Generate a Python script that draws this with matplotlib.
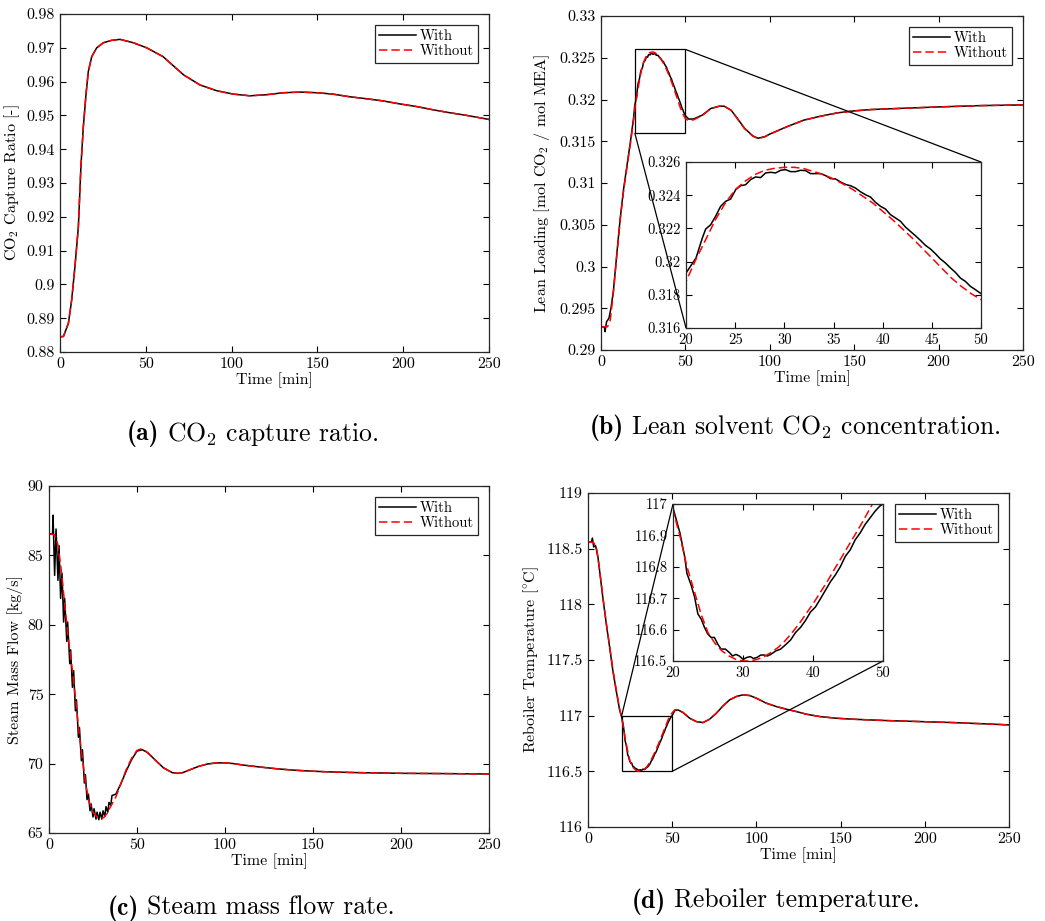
import matplotlib
matplotlib.use("Agg")
import matplotlib.pyplot as plt
from matplotlib.ticker import FuncFormatter, MultipleLocator
from mpl_toolkits.axes_grid1.inset_locator import mark_inset

plt.rcParams['font.family'] = 'serif'
plt.rcParams['font.serif'] = ['cmr10']
plt.rcParams['mathtext.fontset'] = 'cm'
plt.rcParams['axes.formatter.use_mathtext'] = True
plt.rcParams['axes.unicode_minus'] = False

# ---------------- (a) CO2 capture ratio ----------------
t_a = [0, 2, 4.9, 6.8, 8.7, 10.7, 12.2, 13.6, 15.2, 16.5, 18.5, 21.4, 25.3, 30, 35,
       42.7, 50.5, 60, 72, 81.6, 91.3, 101, 110.7, 120, 130, 140, 150, 159, 169,
       179, 188, 198, 208, 218, 227, 237, 250]
a_with = [0.8845, 0.8846, 0.8885, 0.8954, 0.9052, 0.917, 0.935, 0.9467, 0.9565, 0.963,
          0.9674, 0.970, 0.9715, 0.9722, 0.9725, 0.9715, 0.970, 0.9674, 0.962, 0.959,
          0.9573, 0.9563, 0.9558, 0.9561, 0.9567, 0.9569, 0.9567, 0.9563, 0.9555,
          0.9549, 0.9543, 0.9534, 0.9526, 0.9516, 0.9508, 0.950, 0.9488]
a_without = [0.8845, 0.8846, 0.8885, 0.8954, 0.9052, 0.917, 0.935, 0.9467, 0.9565, 0.963,
             0.9674, 0.970, 0.9715, 0.9722, 0.9725, 0.9715, 0.970, 0.9674, 0.962, 0.959,
             0.9573, 0.9563, 0.9558, 0.9561, 0.9567, 0.9569, 0.9567, 0.9563, 0.9555,
             0.9549, 0.9543, 0.9534, 0.9526, 0.9516, 0.9508, 0.950, 0.9488]

# ---------------- (b) Lean loading ----------------
t_b_with = [0, 2.0, 2.4, 3.3, 4.7, 5.9, 7.3, 9.5, 11.4, 13.4, 15.4, 17.4, 19.3,
            20.0, 21.02, 21.66, 22.0, 22.51, 23.01, 23.52, 24.03, 24.54, 25.05, 25.55,
            26.06, 26.57, 27.08, 27.59, 28.09, 28.6, 29.11, 29.62, 30.13, 30.63, 31.14,
            31.65, 32.16, 32.67, 33.17, 33.68, 34.19, 34.7, 35.2, 35.71, 36.22, 36.73,
            37.24, 37.74, 38.25, 38.76, 39.27, 39.78, 40.28, 40.79, 41.3, 41.81, 42.32,
            42.82, 43.33, 43.84, 44.35, 44.86, 45.36, 45.87, 46.38, 46.89, 47.4, 47.9,
            48.41, 48.92, 49.43, 50.0,
            52, 55, 60, 65, 70, 73, 77, 80, 85, 90, 93, 97, 100, 110, 120, 130, 140,
            150, 160, 175, 200, 225, 250]
b_with = [0.29279, 0.29275, 0.29219, 0.29339, 0.2938, 0.2950, 0.2970, 0.3018, 0.3058,
          0.3093, 0.3121, 0.3149, 0.3178,
          0.31931, 0.32022, 0.32142, 0.32196, 0.32222, 0.32273, 0.32333, 0.32363,
          0.32377, 0.32433, 0.32457, 0.32463, 0.32494, 0.3251, 0.32506, 0.32534,
          0.32538, 0.32534, 0.3255, 0.32554, 0.32542, 0.32542, 0.3255, 0.32548,
          0.3253, 0.3253, 0.3253, 0.32518, 0.325, 0.32498, 0.3248, 0.32465, 0.32457,
          0.32443, 0.32421, 0.32403, 0.32389, 0.32357, 0.32333, 0.32317, 0.32283,
          0.32263, 0.32243, 0.32208, 0.32182, 0.32156, 0.32128, 0.32098, 0.32076,
          0.32048, 0.32016, 0.31992, 0.31962, 0.31935, 0.31901, 0.31881, 0.31851,
          0.31831, 0.31807,
          0.31765, 0.31768, 0.31813, 0.31892, 0.3192, 0.3192, 0.31873, 0.31795,
          0.31656, 0.31563, 0.31536, 0.31555, 0.31586, 0.31673, 0.31752, 0.318,
          0.3184, 0.31864, 0.3188, 0.31892, 0.31911, 0.31927, 0.31935]
t_b_without = [0, 3.9, 5.5, 7.5, 9.5, 11.4, 13.4, 15.4, 17.4, 19.3,
               20, 21, 22, 23, 24, 25, 26, 27, 28, 29, 30, 31, 32, 33, 34, 35, 36, 37,
               38, 39, 40, 41, 42, 43, 44, 45, 46, 47, 48, 49, 50,
               52, 55, 60, 65, 70, 73, 77, 80, 85, 90, 93, 97, 100, 110, 120, 130, 140,
               150, 160, 175, 200, 225, 250]
b_without = [0.29279, 0.29279, 0.2936, 0.2972, 0.3016, 0.3056, 0.3091, 0.3119, 0.3147,
             0.3175,
             0.3188, 0.32012, 0.32132, 0.32253, 0.32353, 0.32433, 0.32484, 0.32524,
             0.3255, 0.32562, 0.32568, 0.32568, 0.3256, 0.32542, 0.32524, 0.32498,
             0.32467, 0.32433, 0.32393, 0.32353, 0.32303, 0.32253, 0.32198, 0.32142,
             0.32082, 0.32022, 0.31961, 0.31901, 0.31851, 0.31807, 0.31771,
             0.31745, 0.31758, 0.31808, 0.3189, 0.31919, 0.31919, 0.31871, 0.31791,
             0.31652, 0.3156, 0.31532, 0.31552, 0.31584, 0.31672, 0.31751, 0.31799,
             0.31839, 0.31863, 0.31879, 0.31891, 0.31911, 0.31927, 0.31935]

# ---------------- (c) Steam mass flow ----------------
t_c_with = [0, 2, 2.3, 3.2, 4.0, 5.1, 5.7, 6.6, 7.4, 8.3, 8.9, 10.1, 10.6, 11.8, 12.3,
            13.3, 14.0, 15.0, 15.6, 16.7, 17.3, 18.4, 19.0, 20.1, 20.7, 21.6, 22.4,
            23.3, 23.9, 25.0, 25.6, 26.7, 27.3, 28.3, 29.0, 30.0, 30.7, 31.7, 32.4,
            33.4, 34.1, 35.1, 35.8, 38, 41, 44, 47, 50, 53, 56, 60, 65, 70, 73, 76,
            80, 85, 90, 95, 100, 105, 110, 120, 130, 140, 150, 160, 175, 200, 225, 250]
c_with = [86.55, 86.55, 87.9, 83.56, 86.9, 83.2, 85.7, 81.9, 83.7, 80.2, 81.9, 78.8,
          80.2, 77.2, 78.2, 75.5, 76.7, 73.8, 74.6, 71.9, 72.6, 70.2, 71.0, 68.6, 69.2,
          67.4, 67.8, 66.6, 67.1, 66.15, 66.75, 66.0, 66.5, 65.96, 66.5, 66.0, 66.6,
          66.2, 66.9, 66.5, 67.2, 67.0, 67.7, 67.8, 68.6, 69.5, 70.3, 70.9, 71.0, 70.8,
          70.3, 69.7, 69.35, 69.3, 69.35, 69.55, 69.8, 69.97, 70.05, 70.05, 70.0, 69.9,
          69.75, 69.62, 69.52, 69.45, 69.4, 69.35, 69.3, 69.28, 69.25]
t_c_without = [0, 3, 5, 7, 9, 11, 13, 15, 17, 19, 21, 23, 25, 27, 29, 31, 33, 35, 38,
               41, 44, 47, 50, 52, 55, 60, 65, 70, 73, 76, 80, 85, 90, 95, 100, 105,
               110, 120, 130, 140, 150, 160, 175, 200, 225, 250]
c_without = [86.55, 86.5, 85.8, 83.9, 81.4, 79.0, 77.0, 74.8, 72.3, 70.3, 68.4, 67.2,
             66.5, 66.2, 66.05, 66.1, 66.4, 66.9, 67.6, 68.6, 69.6, 70.4, 70.95, 71.05,
             70.9, 70.3, 69.7, 69.35, 69.3, 69.35, 69.55, 69.8, 69.97, 70.05, 70.05,
             70.0, 69.9, 69.75, 69.62, 69.52, 69.45, 69.4, 69.35, 69.3, 69.28, 69.25]

# ---------------- (d) Reboiler temperature ----------------
t_d_with = [0, 2.0, 2.6, 3.4, 4.5, 5.9, 6.9, 8.9, 10.9, 12.9, 14.8, 16.8, 18.8,
            20.0, 20.99, 21.66, 21.99, 22.6, 23.08, 23.55, 24.02, 24.5, 24.97, 25.44,
            25.92, 26.39, 26.86, 27.48, 28.05, 28.52, 28.99, 29.47, 30.03, 30.51,
            31.03, 31.5, 31.97, 32.54, 33.01, 33.49, 33.96, 34.67, 35.38, 36.09, 36.8,
            37.51, 38.22, 38.93, 39.64, 40.35, 41.06, 41.77, 42.48, 43.19, 43.9, 44.61,
            45.32, 46.03, 46.74, 47.45, 48.16, 48.87, 49.58, 50.0,
            51.5, 53.4, 56.4, 60.4, 64.3, 68.3, 72.2, 76.2, 80.2, 84.1, 88.1, 92, 96,
            100, 105.9, 111.8, 117.8, 123.7, 129.7, 137.6, 147.5, 157.4, 177, 197,
            216.7, 236.5, 250]
d_with = [118.557, 118.56, 118.595, 118.515, 118.527, 118.425, 118.3, 118.05, 117.82,
          117.61, 117.4, 117.22, 117.05,
          116.988, 116.908, 116.833, 116.779, 116.741, 116.704, 116.65, 116.634,
          116.607, 116.586, 116.575, 116.575, 116.554, 116.538, 116.538, 116.527,
          116.516, 116.521, 116.516, 116.505, 116.511, 116.514, 116.508, 116.511,
          116.519, 116.519, 116.516, 116.521, 116.532, 116.538, 116.552, 116.567,
          116.591, 116.607, 116.629, 116.656, 116.672, 116.698, 116.725, 116.752,
          116.774, 116.8, 116.833, 116.854, 116.886, 116.908, 116.935, 116.956,
          116.977, 116.994, 117.0,
          117.045, 117.052, 117.028, 116.977, 116.947, 116.938, 116.968, 117.022,
          117.088, 117.142, 117.172, 117.187, 117.181, 117.157, 117.112, 117.082,
          117.058, 117.037, 117.013, 116.992, 116.977, 116.968, 116.956, 116.947,
          116.938, 116.926, 116.917]
t_d_without = [0, 3.2, 5, 6.9, 8.9, 10.9, 12.9, 14.8, 16.8, 18.8,
               20, 21, 22, 23, 24, 25, 26, 27, 28, 29, 30, 31, 32, 33, 34, 35, 36, 37,
               38, 39, 40, 41, 42, 43, 44, 45, 46, 47, 48, 48.5, 50,
               51.5, 53.4, 56.4, 60.4, 64.3, 68.3, 72.2, 76.2, 80.2, 84.1, 88.1, 92, 96,
               100, 105.9, 111.8, 117.8, 123.7, 129.7, 137.6, 147.5, 157.4, 177, 197,
               216.7, 236.5, 250]
d_without = [118.557, 118.557, 118.515, 118.31, 118.06, 117.83, 117.62, 117.41,
             117.23, 117.06,
             116.98, 116.897, 116.8, 116.725, 116.65, 116.59, 116.556, 116.532, 116.516,
             116.505, 116.5, 116.5, 116.505, 116.514, 116.527, 116.543, 116.564, 116.59,
             116.618, 116.65, 116.682, 116.717, 116.752, 116.79, 116.827, 116.865,
             116.902, 116.94, 116.98, 117.0, 117.025,
             117.052, 117.055, 117.03, 116.977, 116.947, 116.938, 116.968, 117.022,
             117.088, 117.142, 117.172, 117.187, 117.181, 117.157, 117.112, 117.082,
             117.058, 117.037, 117.013, 116.992, 116.977, 116.968, 116.956, 116.947,
             116.938, 116.926, 116.917]

labels = ["With", "Without"]
captions = [("(a)", "CO$_2$ capture ratio."),
            ("(b)", "Lean solvent CO$_2$ concentration."),
            ("(c)", "Steam mass flow rate."),
            ("(d)", "Reboiler temperature.")]

W, H = 1045, 921
fig = plt.figure(figsize=(W / 100, H / 100), dpi=100)


def px_axes(left, top, right, bottom):
    return fig.add_axes([left / W, 1 - bottom / H, (right - left) / W, (bottom - top) / H])


gfmt = FuncFormatter(lambda v, p: f"{round(v, 6):g}")
AXC = '0.15'
TICK_FS = 11.5
LAB_FS = 11.5


def style(ax, fs=TICK_FS):
    ax.tick_params(direction='in', top=True, right=True, length=4.5, width=0.8,
                   labelsize=fs, colors='black', pad=4)
    for s in ax.spines.values():
        s.set_color(AXC)
        s.set_linewidth(0.9)
    ax.yaxis.set_major_formatter(gfmt)
    ax.xaxis.set_major_formatter(gfmt)


def draw(ax, tw, yw, tn, yn):
    ax.plot(tw, yw, color='black', lw=1.1, label=labels[0])
    ax.plot(tn, yn, color='red', lw=1.1, dashes=(5.5, 2.6), label=labels[1])


def legend(ax):
    lg = ax.legend(loc='upper right', fancybox=False, framealpha=1, edgecolor=AXC,
                   fontsize=10.5, handlelength=2.5, borderaxespad=0.75, labelspacing=0.1,
                   borderpad=0.3, handletextpad=0.25)
    lg.get_frame().set_linewidth(0.9)


# (a)
ax = px_axes(60, 14, 489, 352)
draw(ax, t_a, a_with, t_a, a_without)
ax.set_xlim(0, 250)
ax.set_ylim(0.88, 0.98)
ax.xaxis.set_major_locator(MultipleLocator(50))
ax.yaxis.set_major_locator(MultipleLocator(0.01))
style(ax)
ax.set_xlabel("Time [min]", fontsize=LAB_FS, labelpad=1)
ax.set_ylabel("CO$_2$ Capture Ratio [-]", fontsize=LAB_FS, labelpad=3)
legend(ax)

# (b)
ax = px_axes(601, 16, 1023, 350)
draw(ax, t_b_with, b_with, t_b_without, b_without)
ax.set_xlim(0, 250)
ax.set_ylim(0.29, 0.33)
ax.xaxis.set_major_locator(MultipleLocator(50))
ax.yaxis.set_major_locator(MultipleLocator(0.005))
style(ax)
ax.set_xlabel("Time [min]", fontsize=LAB_FS, labelpad=1)
ax.set_ylabel("Lean Loading [mol CO$_2$ / mol MEA]", fontsize=LAB_FS, labelpad=5)
legend(ax)
axi = px_axes(686, 162, 981, 328)
draw(axi, t_b_with, b_with, t_b_without, b_without)
axi.set_xlim(20, 50)
axi.set_ylim(0.316, 0.326)
axi.xaxis.set_major_locator(MultipleLocator(5))
axi.yaxis.set_major_locator(MultipleLocator(0.002))
style(axi, fs=10.5)
mark_inset(ax, axi, loc1=1, loc2=3, fc='none', ec='black', lw=0.9)

# (c)
ax = px_axes(49, 486, 489, 833)
draw(ax, t_c_with, c_with, t_c_without, c_without)
ax.set_xlim(0, 250)
ax.set_ylim(65, 90)
ax.xaxis.set_major_locator(MultipleLocator(50))
ax.yaxis.set_major_locator(MultipleLocator(5))
style(ax)
ax.set_xlabel("Time [min]", fontsize=LAB_FS, labelpad=1)
ax.set_ylabel("Steam Mass Flow [kg/s]", fontsize=LAB_FS, labelpad=3)
legend(ax)

# (d)
ax = px_axes(588, 493, 1009, 827)
draw(ax, t_d_with, d_with, t_d_without, d_without)
ax.set_xlim(0, 250)
ax.set_ylim(116, 119)
ax.xaxis.set_major_locator(MultipleLocator(50))
ax.yaxis.set_major_locator(MultipleLocator(0.5))
style(ax)
ax.set_xlabel("Time [min]", fontsize=LAB_FS, labelpad=1)
ax.set_ylabel(r"Reboiler Temperature [$^{\circ}$C]", fontsize=LAB_FS, labelpad=4)
legend(ax)
axi = px_axes(673, 504, 883, 661)
draw(axi, t_d_with, d_with, t_d_without, d_without)
axi.set_xlim(20, 50)
axi.set_ylim(116.5, 117)
axi.xaxis.set_major_locator(MultipleLocator(10))
axi.yaxis.set_major_locator(MultipleLocator(0.1))
style(axi, fs=10.5)
mark_inset(ax, axi, loc1=2, loc2=4, fc='none', ec='black', lw=0.9)

# captions: bold tag + regular text, centred together
CAP_FS = 18.5
renderer = fig.canvas.get_renderer()
cap_pos = [(253, 430), (795, 424), (251, 905), (776, 898)]
for (tag, rest), (xc, yc) in zip(captions, cap_pos):
    t1 = fig.text(0, 1 - yc / H, tag, fontfamily='cmb10', fontsize=CAP_FS,
                  ha='left', va='center_baseline')
    t2 = fig.text(0, 1 - yc / H, rest, fontsize=CAP_FS, ha='left', va='center_baseline')
    w1 = t1.get_window_extent(renderer).width
    w2 = t2.get_window_extent(renderer).width
    gap = 0.3 * CAP_FS * 100 / 72
    x0 = xc - (w1 + gap + w2) / 2
    t1.set_x(x0 / W)
    t2.set_x((x0 + w1 + gap) / W)

fig.savefig("out.png", dpi=100)
